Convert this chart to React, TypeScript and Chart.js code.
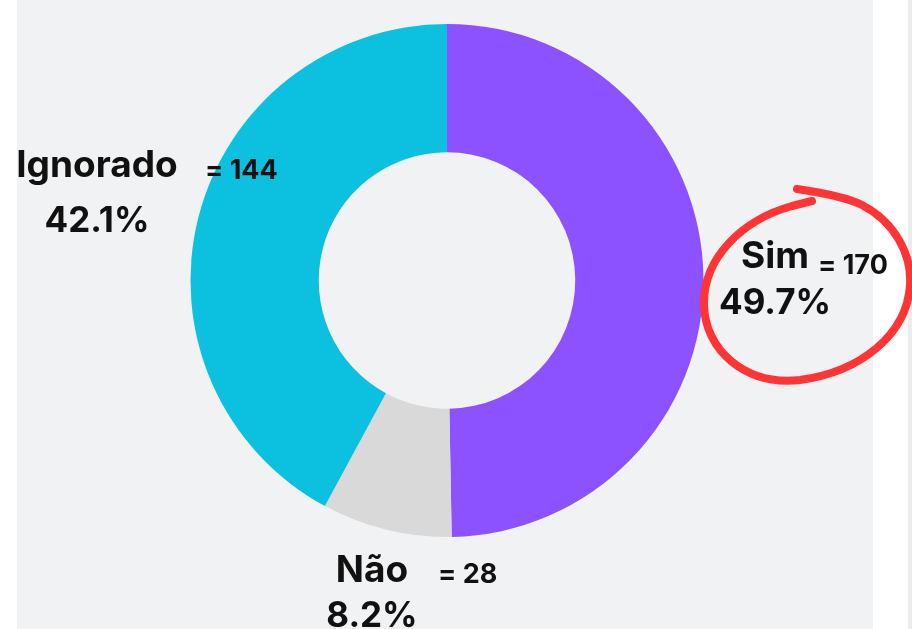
import React, { useEffect, useRef } from "react";
import { Chart, registerables } from "chart.js";

Chart.register(...registerables);

const categories = ["Sim", "Não", "Ignorado"];
const values = [170, 28, 144];
const colors = ["#8c52ff", "#d9d9d9", "#0cc0df"];

const W = 912;
const H = 629;

const backgroundPlugin = {
  id: "bgPanels",
  beforeDraw(chart: any) {
    const ctx = chart.ctx;
    ctx.save();
    ctx.fillStyle = "#ffffff";
    ctx.fillRect(0, 0, W, H);
    ctx.fillStyle = "#f1f2f4";
    ctx.fillRect(17, 0, 856, H);
    ctx.fillStyle = "#ececec";
    ctx.fillRect(908, 0, 4, H);
    ctx.restore();
  },
};

// label anchors (center x, name baseline, pct baseline, value x, value baseline)
const labelLayout = [
  { cx: 775, nameY: 268, pctY: 314, valX: 818, valY: 274 },
  { cx: 372, nameY: 582, pctY: 627, valX: 438, valY: 583 },
  { cx: 97, nameY: 177, pctY: 232, valX: 205, valY: 179 },
];

const labelsPlugin = {
  id: "sliceLabels",
  afterDraw(chart: any) {
    const ctx = chart.ctx;
    const data = chart.data.datasets[0].data as number[];
    const total = data.reduce((a, b) => a + b, 0);
    ctx.save();
    ctx.fillStyle = "#111111";
    ctx.textBaseline = "alphabetic";
    data.forEach((v, i) => {
      const L = labelLayout[i];
      const pct = ((v / total) * 100).toFixed(1) + "%";
      ctx.textAlign = "center";
      ctx.font = "700 37px Inter";
      ctx.fillText(chart.data.labels[i], L.cx, L.nameY);
      ctx.font = "700 35px Inter";
      ctx.fillText(pct, L.cx, L.pctY);
      ctx.textAlign = "left";
      ctx.font = "700 27px Inter";
      ctx.fillText("= " + v, L.valX, L.valY);
    });

    // hand-drawn red circle highlight
    ctx.strokeStyle = "#ff3434";
    ctx.lineWidth = 8;
    ctx.lineCap = "round";
    ctx.lineJoin = "round";
    ctx.beginPath();
    ctx.moveTo(797, 189);
    ctx.bezierCurveTo(825, 193, 848, 198, 862, 205);
    ctx.bezierCurveTo(895, 222, 912, 255, 910, 285);
    ctx.bezierCurveTo(907, 335, 860, 372, 800, 380);
    ctx.bezierCurveTo(745, 386, 705, 350, 704, 305);
    ctx.bezierCurveTo(703, 258, 742, 220, 792, 206);
    ctx.lineTo(812, 201);
    ctx.stroke();
    ctx.restore();
  },
};

export default function App() {
  const ref = useRef<HTMLCanvasElement | null>(null);
  useEffect(() => {
    if (!ref.current) return;
    const chart = new Chart(ref.current, {
      type: "doughnut",
      data: {
        labels: categories,
        datasets: [
          {
            data: values,
            backgroundColor: colors,
            borderWidth: 0,
          },
        ],
      },
      options: {
        responsive: false,
        animation: false,
        cutout: "50%",
        layout: { padding: { left: 190.5, top: 24, right: 208.5, bottom: 92 } },
        plugins: {
          legend: { display: false },
          tooltip: { enabled: false },
        },
      },
      plugins: [backgroundPlugin, labelsPlugin],
    });
    return () => chart.destroy();
  }, []);
  return (
    <div style={{ position: "fixed", left: 0, top: 0, width: W, height: H }}>
      <canvas ref={ref} width={W} height={H} style={{ width: W, height: H, display: "block" }} />
    </div>
  );
}
